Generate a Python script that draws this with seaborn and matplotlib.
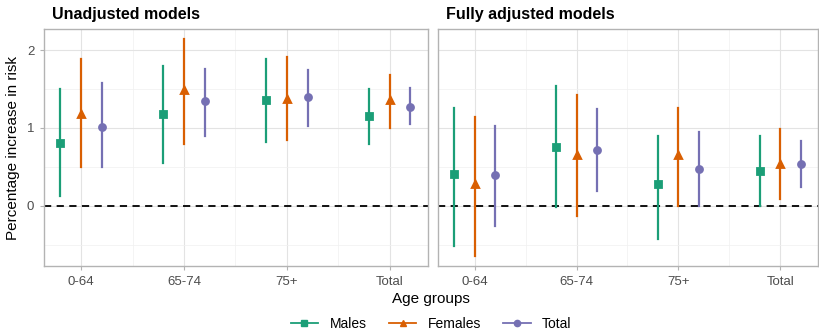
import numpy as np
import pandas as pd
import matplotlib
matplotlib.use("Agg")
import matplotlib.pyplot as plt
from matplotlib.lines import Line2D
import seaborn as sns

# values
age_groups = ["0-64", "65-74", "75+", "Total"]
sexes = ["Males", "Females", "Total"]

# unadjusted models: estimate, lower, upper (per age group, per sex)
unadj_est = {"Males": [0.81, 1.18, 1.36, 1.15],
             "Females": [1.18, 1.48, 1.37, 1.36],
             "Total": [1.01, 1.34, 1.39, 1.27]}
unadj_lo = {"Males": [0.12, 0.55, 0.82, 0.79],
            "Females": [0.50, 0.79, 0.84, 1.00],
            "Total": [0.50, 0.89, 1.02, 1.05]}
unadj_hi = {"Males": [1.50, 1.80, 1.88, 1.50],
            "Females": [1.88, 2.14, 1.91, 1.68],
            "Total": [1.57, 1.76, 1.74, 1.51]}

# fully adjusted models
adj_est = {"Males": [0.41, 0.76, 0.28, 0.44],
           "Females": [0.28, 0.65, 0.65, 0.54],
           "Total": [0.40, 0.72, 0.47, 0.54]}
adj_lo = {"Males": [-0.52, -0.02, -0.43, 0.00],
          "Females": [-0.65, -0.13, 0.00, 0.09],
          "Total": [-0.26, 0.19, 0.00, 0.24]}
adj_hi = {"Males": [1.26, 1.54, 0.90, 0.89],
          "Females": [1.14, 1.42, 1.26, 0.99],
          "Total": [1.02, 1.24, 0.95, 0.83]}

colors = ["#1B9E77", "#D95F02", "#7570B3"]
markers = ["s", "^", "o"]


def long_table(est, lo, hi):
    # three rows per group (lower, estimate, upper): median -> estimate, min/max -> CI
    rows = []
    for s in sexes:
        for i, g in enumerate(age_groups):
            for v in (lo[s][i], est[s][i], hi[s][i]):
                rows.append({"Age": g, "Sex": s, "value": v})
    return pd.DataFrame(rows)


plt.rcParams["font.family"] = ["Liberation Sans", "DejaVu Sans"]

fig = plt.figure(figsize=(8.2, 3.33), dpi=100)
ax1 = fig.add_axes([44 / 820, 67 / 333, 384 / 820, 237 / 333])
ax2 = fig.add_axes([438 / 820, 67 / 333, 380 / 820, 237 / 333])

panels = [(ax1, "Unadjusted models", long_table(unadj_est, unadj_lo, unadj_hi)),
          (ax2, "Fully adjusted models", long_table(adj_est, adj_lo, adj_hi))]

for ax, title, df in panels:
    ax.axhline(0, color="black", ls=(0, (4, 3)), lw=1.3, zorder=1)
    sns.pointplot(data=df, x="Age", y="value", hue="Sex", order=age_groups,
                  hue_order=sexes, estimator=np.median,
                  errorbar=lambda v: (v.min(), v.max()),
                  dodge=0.4, linestyle="none", markers=markers,
                  palette=colors, markersize=4.3, err_kws={"linewidth": 1.6},
                  legend=False, ax=ax)
    ax.set_xlim(0.64 - 1, 4.37 - 1)
    ax.set_ylim(-0.775, 2.27)
    ax.set_yticks([0, 1, 2])
    ax.set_yticks([-0.5, 0.5, 1.5], minor=True)
    ax.set_xticks([0.5, 1.5, 2.5], minor=True)
    ax.grid(which="major", color="#E3E3E3", lw=0.8)
    ax.grid(which="minor", color="#F0F0F0", lw=0.5)
    ax.set_axisbelow(True)
    for sp in ax.spines.values():
        sp.set_color("#B3B3B3")
        sp.set_linewidth(1.0)
    ax.tick_params(which="major", colors="#B3B3B3", labelcolor="#4D4D4D",
                   labelsize=9.5, length=3, pad=4)
    ax.tick_params(which="minor", length=0)
    ax.set_xlabel("")
    ax.set_ylabel("")
    ax.set_title(title, loc="left", fontweight="bold", fontsize=11.5, pad=7, x=0.02)

ax2.tick_params(axis="y", labelleft=False, length=0)
ax1.set_ylabel("Percentage increase in risk", fontsize=11, labelpad=5)
fig.text(0.5 * (44 + 818) / 820, 1 - 299 / 333, "Age groups", ha="center",
         va="center", fontsize=11)

handles = [Line2D([], [], color=c, marker=m, markersize=4.5, lw=1.3)
           for c, m in zip(colors, markers)]
fig.legend(handles, sexes, loc="center", bbox_to_anchor=(0.5 * (44 + 818) / 820, 1 - 324 / 333),
           ncol=3, frameon=False, fontsize=10, handlelength=2, columnspacing=1.6)

fig.savefig("out.png", dpi=100)
